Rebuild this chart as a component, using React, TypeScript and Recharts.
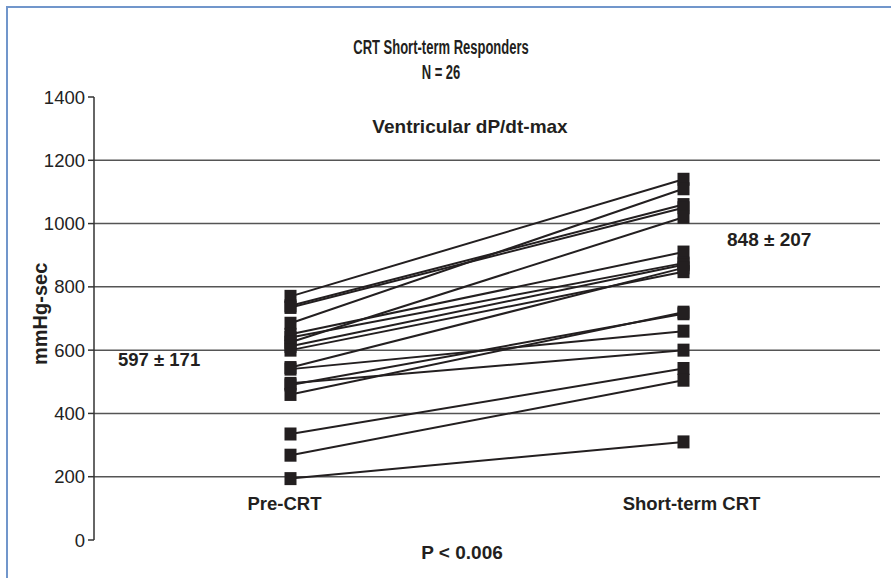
import { LineChart, Line, XAxis, YAxis, ReferenceLine } from "recharts";

const phases = ["Pre-CRT", "Short-term CRT"];
const phaseX = [1, 3];
const preCRT = [770, 740, 735, 685, 650, 640, 625, 612, 600, 545, 540, 495, 490, 460, 335, 268, 194];
const shortTermCRT = [1140, 1060, 1050, 1110, 910, 875, 1020, 870, 848, 860, 660, 600, 715, 720, 542, 505, 310];
const yTicks = [0, 200, 400, 600, 800, 1000, 1200, 1400];
const gridValues = [200, 400, 600, 800, 1000, 1200];

const rows = phases.map((name, i) => {
	const row: Record<string, number | string> = { x: phaseX[i], name };
	preCRT.forEach((v, j) => {
		row[`s${j}`] = i === 0 ? v : shortTermCRT[j];
	});
	return row;
});

const INK = "#231f20";
const FONT = "'Liberation Sans', Arial, sans-serif";

function SquareDot(props: any) {
	const { cx, cy, key } = props;
	if (cx == null || cy == null) return null;
	return <rect key={key} x={cx - 6} y={cy - 6.5} width={12} height={13} fill={INK} />;
}

// labels in the source sit a little off the marker columns
const tickShift = [-6, 8];

function PhaseTick(props: any) {
	const { x, y, payload } = props;
	const idx = phaseX.indexOf(payload.value);
	return (
		<text x={x + tickShift[idx]} y={y - 38} textAnchor="middle" fontSize={18.5} fontWeight="bold" fill={INK} fontFamily={FONT}>
			{phases[idx]}
		</text>
	);
}

const textStyle: React.CSSProperties = {
	position: "absolute",
	fontFamily: FONT,
	fontWeight: "bold",
	fontSize: 19,
	color: INK,
	whiteSpace: "nowrap",
	lineHeight: "22px",
};

const titleStyle: React.CSSProperties = {
	...textStyle,
	fontSize: 20,
	left: 0,
	width: 882,
	textAlign: "center",
	transform: "scaleX(0.65)",
	transformOrigin: "441px 50%",
};

export default function App() {
	return (
		<div style={{ position: "fixed", left: 0, top: 0, width: 891, height: 578, background: "#fff" }}>
			<div style={{ position: "absolute", left: 6, top: 6, right: 0, height: 2, background: "#7196cb" }} />
			<div style={{ position: "absolute", left: 6, top: 6, bottom: 0, width: 2, background: "#7196cb" }} />
			<LineChart
				width={891}
				height={578}
				data={rows}
				margin={{ top: 97, right: 11, bottom: 37, left: 0 }}
				style={{ position: "absolute", left: 0, top: 0 }}
			>
				<XAxis
					type="number"
					dataKey="x"
					domain={[0, 4]}
					ticks={phaseX}
					axisLine={false}
					tickLine={false}
					height={1}
					tick={<PhaseTick />}
				/>
				<YAxis
					type="number"
					domain={[0, 1400]}
					ticks={yTicks}
					width={94}
					interval={0}
					axisLine={{ stroke: "#333", strokeWidth: 1.5 }}
					tickLine={{ stroke: "#333", strokeWidth: 1.5 }}
					tickSize={6}
					tickMargin={3}
					tick={{ fontSize: 18.5, fill: "#222", fontFamily: FONT }}
				/>
				{gridValues.map((v) => (
					<ReferenceLine key={v} y={v} stroke="#555" strokeWidth={1.5} />
				))}
				{preCRT.map((_, j) => (
					<Line
						key={j}
						dataKey={`s${j}`}
						type="linear"
						stroke={INK}
						strokeWidth={2}
						dot={<SquareDot />}
						activeDot={false}
						isAnimationActive={false}
					/>
				))}
			</LineChart>
			<div style={{ ...titleStyle, top: 36 }}>CRT Short-term  Responders</div>
			<div style={{ ...titleStyle, top: 61 }}>N = 26</div>
			<div style={{ ...textStyle, left: 340, width: 260, top: 116, textAlign: "center" }}>Ventricular dP/dt-max</div>
			<div style={{ ...textStyle, left: 727, top: 229 }}>848 ± 207</div>
			<div style={{ ...textStyle, fontSize: 18.5, left: 118, top: 349 }}>597 ± 171</div>
			<div style={{ ...textStyle, left: 362, width: 200, top: 542, textAlign: "center" }}>P &lt; 0.006</div>
			<div
				style={{
					...textStyle,
					fontSize: 20,
					left: -10,
					top: 304,
					width: 100,
					textAlign: "center",
					transform: "rotate(-90deg)",
				}}
			>
				mmHg-sec
			</div>
		</div>
	);
}
